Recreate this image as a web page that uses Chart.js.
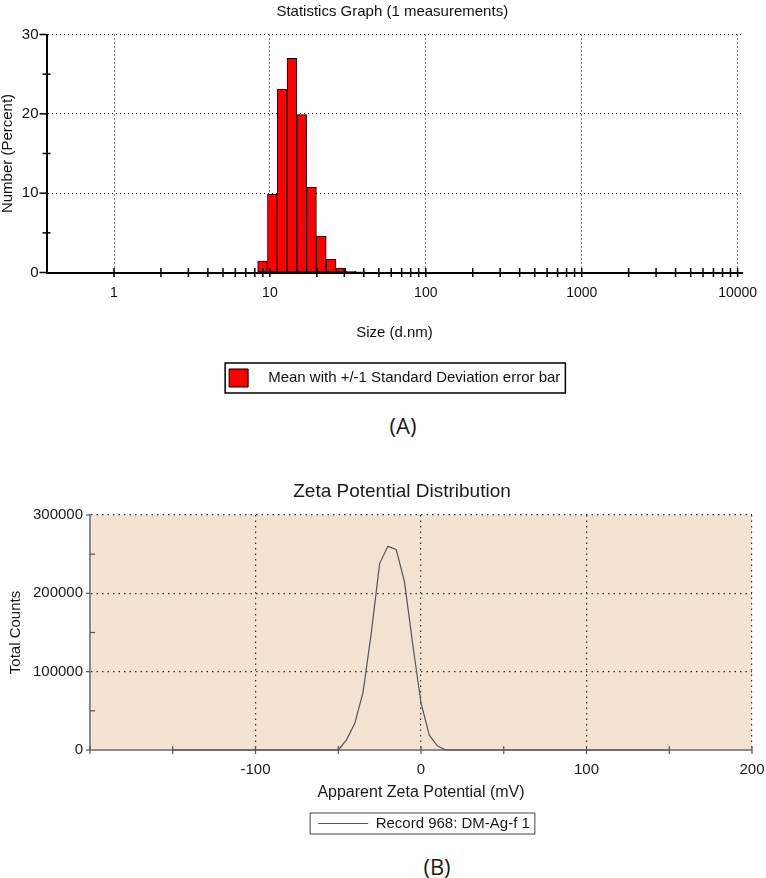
<!DOCTYPE html>
<html lang="es">
<head>
<meta charset="utf-8">
<title>Tamano de particula y potencial zeta</title>
<script src="https://cdn.jsdelivr.net/npm/chart.js@4.4.1/dist/chart.umd.min.js"></script>
<style>
  html, body { margin: 0; padding: 0; background: #fff; }
  body { position: relative; width: 766px; height: 878px; overflow: hidden; }
  .panel { position: absolute; left: 0; width: 766px; }
  #panelA { top: 0; height: 397px; }
  #panelB { top: 470px; height: 371px; }
  .etiqueta { position: absolute; transform: translate(-50%, -50%); font-family: "Open Sans", "Liberation Sans", sans-serif; font-size: 22px; color: #1a1a1a; }
</style>
</head>
<body>
<div class="panel" id="panelA"><canvas id="graficaTamano"></canvas></div>
<div class="etiqueta" style="left:403px; top:425px">(A)</div>
<div class="panel" id="panelB"><canvas id="graficaZeta"></canvas></div>
<div class="etiqueta" style="left:437px; top:866px">(B)</div>
<script>
// (A) distribucion de tamano: centro de cada bin (d.nm) y porcentaje en numero
const tamanos = [8.97, 10.37, 11.98, 13.85, 16.00, 18.49, 21.37, 24.70, 28.54, 32.98, 38.11];
const porcentajes = [1.45, 9.9, 23.1, 27.0, 19.9, 10.75, 4.6, 1.65, 0.55, 0.15, 0.1];

// marcas del eje x logaritmico
const marcasX = [1, 10, 100, 1000, 10000];
const marcasMenoresX = [2, 3, 4, 5, 6, 7, 8, 9,
  20, 30, 40, 50, 60, 70, 80, 90,
  200, 300, 400, 500, 600, 700, 800, 900,
  2000, 3000, 4000, 5000, 6000, 7000, 8000, 9000];
const marcasY_A = [0, 10, 20, 30];
const marcasMenoresY_A = [5, 15, 25];

// (B) potencial zeta (mV) y cuentas totales
const potencial = [-150, -50, -45, -40, -35, -30, -25, -20, -15, -10, -5, 0, 5, 10, 15, 150];
const cuentas = [0, 0, 13000, 34000, 74000, 150000, 238000, 260000, 256000, 215000, 135000, 60000, 19000, 5000, 0, 0];

const marcasX_B = [-200, -100, 0, 100, 200];
const marcasMenoresX_B = [-150, -50, 50, 150];
const marcasY_B = [0, 100000, 200000, 300000];
const marcasMenoresY_B = [50000, 150000, 250000];

const SANS = '"Liberation Sans", Arial, sans-serif';

// fondo del area, marcas que cruzan el eje, marco de la leyenda y centrado
const decoraciones = {
  id: 'decoraciones',
  beforeDraw(chart, args, o) {
    if (!o.fondo) return;
    const { ctx, chartArea: a } = chart;
    ctx.save();
    ctx.fillStyle = o.fondo;
    ctx.fillRect(a.left, a.top, a.right - a.left, a.bottom - a.top);
    ctx.restore();
  },
  afterUpdate(chart, args, o) {
    const t = chart.titleBlock, l = chart.legend;
    if (t) { t.left += o.moverTitulo; t.right += o.moverTitulo; }
    if (l) {
      l.left += o.moverLeyenda; l.right += o.moverLeyenda;
      l.legendHitBoxes.forEach(h => { h.left += o.moverLeyenda; });
    }
  },
  afterDraw(chart, args, o) {
    const ctx = chart.ctx;
    ctx.save();
    ctx.strokeStyle = o.colorMarcas;
    ctx.lineWidth = o.anchoMarcas;
    o.marcas.forEach(g => {
      const s = chart.scales[g.eje];
      g.valores.forEach(v => {
        const p = s.getPixelForValue(v);
        ctx.beginPath();
        if (g.eje === 'x') { ctx.moveTo(p, s.top + g.fuera); ctx.lineTo(p, s.top - g.dentro); }
        else { ctx.moveTo(s.right - g.fuera, p); ctx.lineTo(s.right + g.dentro, p); }
        ctx.stroke();
      });
    });
    const h = chart.legend.legendHitBoxes[0];
    if (h) {
      ctx.strokeStyle = o.colorMarco;
      ctx.lineWidth = o.anchoMarco;
      ctx.strokeRect(h.left - o.margenIzq, h.top - o.margenMarco,
        h.width + o.margenIzq + o.margenDer, h.height + 2 * o.margenMarco);
    }
    ctx.restore();
  }
};

// ---------- (A) ----------
new Chart(document.getElementById('graficaTamano'), {
  type: 'bar',
  data: {
    datasets: [{
      label: 'Mean with +/-1 Standard Deviation error bar',
      data: tamanos.map((x, i) => ({ x, y: porcentajes[i] })),
      backgroundColor: '#ff0000',
      borderColor: '#000000',
      borderWidth: 1,
      borderSkipped: false,
      barPercentage: 1,
      categoryPercentage: 1
    }]
  },
  options: {
    responsive: true,
    maintainAspectRatio: false,
    animation: false,
    layout: { padding: { left: 0, right: 23.5, top: 0, bottom: 0 } },
    plugins: {
      title: {
        display: true,
        text: 'Statistics Graph (1 measurements)',
        font: { family: SANS, size: 15, weight: 'normal' },
        color: '#111',
        padding: { top: 3, bottom: 13.5 }
      },
      legend: {
        position: 'bottom',
        labels: {
          font: { family: SANS, size: 15 },
          color: '#111',
          boxWidth: 19,
          boxHeight: 18,
          padding: 10,
          // hueco mas ancho entre el cuadro rojo y el texto, como en el original
          generateLabels: chart => Chart.defaults.plugins.legend.labels.generateLabels(chart)
            .map(item => Object.assign(item, { text: '   ' + item.text }))
        }
      },
      tooltip: { enabled: false },
      decoraciones: {
        moverTitulo: 21,
        moverLeyenda: 23.5,
        colorMarcas: '#000',
        anchoMarcas: 1.5,
        colorMarco: '#000',
        anchoMarco: 1.5,
        margenMarco: 6,
        margenIzq: 4,
        margenDer: 5,
        marcas: [
          { eje: 'x', valores: marcasX, fuera: 4.5, dentro: 4.5 },
          { eje: 'x', valores: marcasMenoresX, fuera: 4.5, dentro: 4.5 },
          { eje: 'y', valores: marcasY_A, fuera: 7, dentro: 0 },
          { eje: 'y', valores: marcasMenoresY_A, fuera: 4, dentro: 4 }
        ]
      }
    },
    scales: {
      x: {
        type: 'logarithmic',
        offset: false,
        min: 0.369,
        max: 10750,
        afterBuildTicks: s => { s.ticks = marcasX.map(v => ({ value: v })); },
        afterFit: s => { s.height = 86.5; s.paddingLeft = 0; s.paddingRight = 0; },
        ticks: {
          autoSkip: false,
          maxRotation: 0,
          padding: 12,
          font: { family: SANS, size: 14 },
          color: '#111',
          callback: v => String(v)
        },
        grid: { offset: false, drawTicks: false, color: '#000', lineWidth: 1 },
        border: { color: '#000', width: 2, dash: [1, 3] },
        title: {
          display: true,
          text: 'Size (d.nm)',
          font: { family: SANS, size: 15 },
          color: '#111',
          padding: { top: 0, bottom: 17 }
        }
      },
      y: {
        min: 0,
        max: 30,
        afterFit: s => { s.width = 46.5; },
        ticks: {
          stepSize: 10,
          padding: 8,
          font: { family: SANS, size: 15 },
          color: '#111'
        },
        grid: {
          drawTicks: false,
          lineWidth: 1,
          color: ctx => (ctx.tick && ctx.tick.value > 0 ? '#000' : 'rgba(0,0,0,0)')
        },
        border: { color: '#000', width: 2, dash: [1, 3] },
        title: {
          display: true,
          text: 'Number (Percent)',
          font: { family: SANS, size: 15, lineHeight: 1 },
          color: '#111',
          padding: { top: 0, bottom: 0 }
        }
      }
    }
  },
  plugins: [decoraciones]
});

// ---------- (B) ----------
new Chart(document.getElementById('graficaZeta'), {
  type: 'line',
  data: {
    datasets: [{
      label: 'Record 968: DM-Ag-f 1',
      data: potencial.map((x, i) => ({ x, y: cuentas[i] })),
      borderColor: '#555555',
      backgroundColor: '#555555',
      borderWidth: 1.2,
      pointRadius: 0,
      tension: 0,
      fill: false,
      clip: false
    }]
  },
  options: {
    responsive: true,
    maintainAspectRatio: false,
    animation: false,
    layout: { padding: { left: 0, right: 14, top: 0, bottom: 0 } },
    plugins: {
      title: {
        display: true,
        text: 'Zeta Potential Distribution',
        font: { family: SANS, size: 19, weight: 'normal' },
        color: '#1a1a1a',
        padding: { top: 10.6, bottom: 11.6 }
      },
      legend: {
        position: 'bottom',
        labels: {
          usePointStyle: true,
          pointStyle: 'line',
          pointStyleWidth: 50,
          font: { family: SANS, size: 15 },
          color: '#1a1a1a',
          padding: 10
        }
      },
      tooltip: { enabled: false },
      decoraciones: {
        fondo: '#f5e3d2',
        moverTitulo: 26,
        moverLeyenda: 48,
        colorMarcas: '#555',
        anchoMarcas: 1.2,
        colorMarco: '#444',
        anchoMarco: 1,
        margenMarco: 3,
        margenIzq: 8,
        margenDer: 5,
        marcas: [
          { eje: 'x', valores: marcasX_B, fuera: 4, dentro: 4 },
          { eje: 'x', valores: marcasMenoresX_B, fuera: 4, dentro: 4 },
          { eje: 'y', valores: marcasY_B, fuera: 4, dentro: 0 },
          { eje: 'y', valores: marcasMenoresY_B, fuera: 0, dentro: 5 }
        ]
      }
    },
    scales: {
      x: {
        type: 'linear',
        min: -200,
        max: 200,
        afterFit: s => { s.height = 56; s.paddingLeft = 0; s.paddingRight = 0; },
        ticks: {
          stepSize: 100,
          autoSkip: false,
          maxRotation: 0,
          padding: 11,
          font: { family: SANS, size: 15 },
          color: '#1a1a1a',
          callback: v => (v === -200 ? '' : String(v))
        },
        grid: {
          drawTicks: false,
          lineWidth: 1.2,
          color: ctx => (ctx.tick && ctx.tick.value > -200 ? '#333' : 'rgba(0,0,0,0)')
        },
        border: { color: '#8a8a8a', width: 2, dash: [1.5, 4] },
        title: {
          display: true,
          text: 'Apparent Zeta Potential (mV)',
          font: { family: SANS, size: 16 },
          color: '#1a1a1a',
          padding: { top: 0, bottom: 3.4 }
        }
      },
      y: {
        min: 0,
        max: 300000,
        afterFit: s => { s.width = 90; },
        ticks: {
          stepSize: 100000,
          padding: 7,
          font: { family: SANS, size: 15 },
          color: '#1a1a1a',
          callback: v => String(v)
        },
        grid: {
          drawTicks: false,
          lineWidth: 1.2,
          color: ctx => (ctx.tick && ctx.tick.value > 0 ? '#333' : 'rgba(0,0,0,0)')
        },
        border: { color: '#8a8a8a', width: 2, dash: [1.5, 4] },
        title: {
          display: true,
          text: 'Total Counts',
          font: { family: SANS, size: 15 },
          color: '#1a1a1a',
          padding: { top: 7, bottom: 0 }
        }
      }
    }
  },
  plugins: [decoraciones]
});
</script>
</body>
</html>
